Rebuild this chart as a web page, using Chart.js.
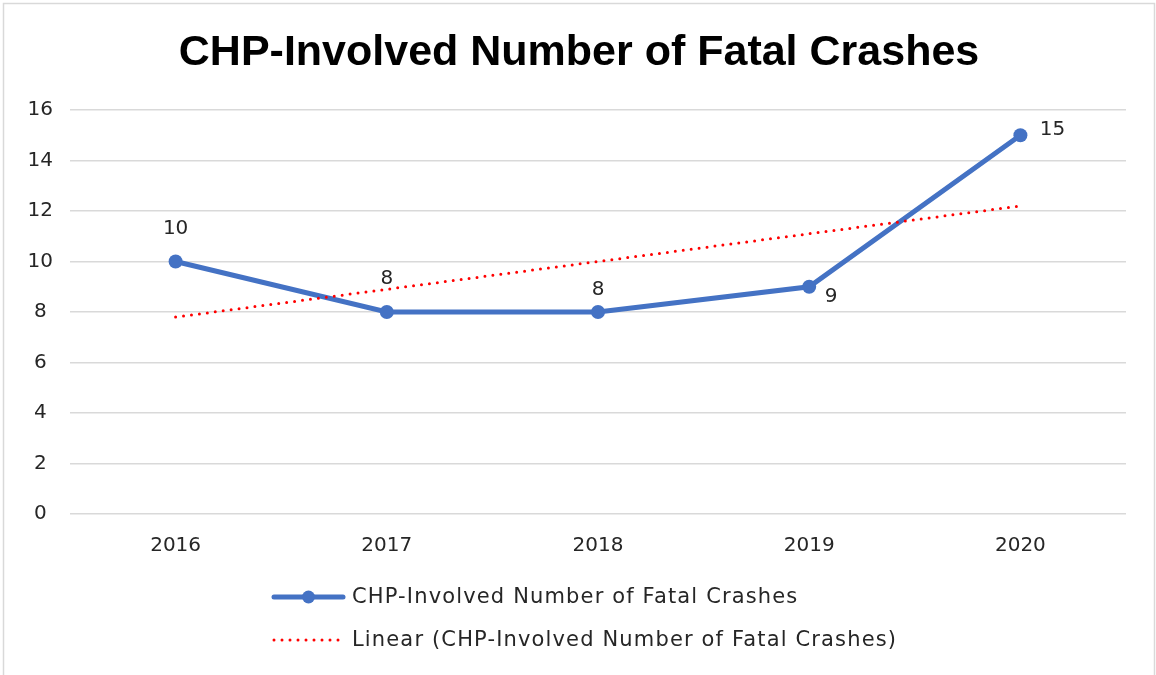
<!DOCTYPE html>
<html>
<head>
<meta charset="utf-8">
<script src="https://cdn.jsdelivr.net/npm/chart.js@4.4.1/dist/chart.umd.min.js"></script>
<style>
  html, body { margin: 0; padding: 0; background: #fff; }
  #wrap { position: relative; width: 1156px; height: 675px; }
</style>
</head>
<body>
<div id="wrap"><canvas id="crashChart"></canvas></div>
<script>
// Data
const years = ['2016', '2017', '2018', '2019', '2020'];
const fatalCrashes = [10, 8, 8, 9, 15];
const linearTrend = [7.8, 8.9, 10.0, 11.1, 12.2];
const yTicks = [0, 2, 4, 6, 8, 10, 12, 14, 16];

const seriesName = 'CHP-Involved Number of Fatal Crashes';
const trendName = 'Linear (CHP-Involved Number of Fatal Crashes)';

const FONT = "'DejaVu Sans', sans-serif";
const TEXT = '#262626';
const BLUE = '#4472C4';
const RED = '#FF0000';

// label offsets from each point (like Excel's manually moved labels)
const labelOffsets = [[0, -33], [0, -33], [0, -22], [22, 10], [32, -5]];

const extras = {
    id: 'extras',
    afterDraw(chart) {
        const ctx = chart.ctx;
        ctx.save();

        // outer chart border
        ctx.strokeStyle = '#d9d9d9';
        ctx.lineWidth = 1.5;
        ctx.strokeRect(3.5, 3.5, 1151, 700);

        // data labels
        const meta = chart.getDatasetMeta(0);
        ctx.font = '20px ' + FONT;
        ctx.fillStyle = TEXT;
        ctx.textAlign = 'center';
        ctx.textBaseline = 'middle';
        meta.data.forEach((pt, i) => {
            const off = labelOffsets[i];
            ctx.fillText(String(fatalCrashes[i]), pt.x + off[0], pt.y + off[1]);
        });

        // legend, stacked and left aligned
        const lx = 272, lw = 73;
        const rows = [597, 640];
        ctx.textAlign = 'left';

        ctx.strokeStyle = BLUE;
        ctx.lineWidth = 5;
        ctx.lineCap = 'round';
        ctx.beginPath();
        ctx.moveTo(lx + 2, rows[0]);
        ctx.lineTo(lx + lw - 2, rows[0]);
        ctx.stroke();
        ctx.fillStyle = BLUE;
        ctx.beginPath();
        ctx.arc(lx + lw / 2, rows[0], 6.5, 0, Math.PI * 2);
        ctx.fill();

        ctx.strokeStyle = RED;
        ctx.lineWidth = 3;
        ctx.setLineDash([0, 8]);
        ctx.beginPath();
        ctx.moveTo(lx + 2, rows[1]);
        ctx.lineTo(lx + lw - 2, rows[1]);
        ctx.stroke();
        ctx.setLineDash([]);

        ctx.fillStyle = TEXT;
        ctx.font = '21px ' + FONT;
        ctx.letterSpacing = '1.15px';
        ctx.fillText(seriesName, lx + lw + 7, rows[0] + 1);
        ctx.fillText(trendName, lx + lw + 7, rows[1] + 1);

        ctx.restore();
    }
};

function initCrashChart() {
    const ctx = document.getElementById('crashChart').getContext('2d');
    new Chart(ctx, {
        type: 'line',
        data: {
            labels: years,
            datasets: [{
                label: seriesName,
                data: fatalCrashes,
                borderColor: BLUE,
                backgroundColor: BLUE,
                borderWidth: 5,
                pointRadius: 7,
                pointHoverRadius: 7,
                pointBorderWidth: 0,
                tension: 0,
                fill: false,
                order: 1
            }, {
                label: trendName,
                data: linearTrend,
                borderColor: RED,
                borderWidth: 3,
                borderDash: [0, 8],
                borderCapStyle: 'round',
                pointRadius: 0,
                tension: 0,
                fill: false,
                order: 0
            }]
        },
        options: {
            responsive: true,
            maintainAspectRatio: false,
            animation: false,
            layout: {
                padding: { left: 2, right: 0, top: 0, bottom: 0 }
            },
            plugins: {
                legend: { display: false },
                tooltip: { enabled: false },
                title: {
                    display: true,
                    text: 'CHP-Involved Number of Fatal Crashes',
                    color: '#000',
                    font: { family: "'Liberation Sans', sans-serif", size: 43, weight: 'bold', lineHeight: 1.2 },
                    padding: { top: 27, bottom: 31.4 }
                }
            },
            scales: {
                x: {
                    offset: true,
                    grid: { display: false, drawTicks: false },
                    border: { display: false },
                    ticks: {
                        color: TEXT,
                        font: { family: FONT, size: 20 },
                        padding: 20
                    },
                    afterFit(scale) { scale.height = 161; }
                },
                y: {
                    min: 0,
                    max: 16,
                    afterBuildTicks(scale) { scale.ticks = yTicks.map(v => ({ value: v })); },
                    grid: { color: '#d9d9d9', lineWidth: 1.5, drawTicks: false },
                    border: { display: false },
                    ticks: {
                        color: TEXT,
                        font: { family: FONT, size: 20 },
                        padding: 17,
                        crossAlign: 'center'
                    },
                    afterFit(scale) { scale.width = 68; }
                },
                // empty right-hand margin so the plot ends where the reference does
                yRight: {
                    position: 'right',
                    min: 0,
                    max: 16,
                    grid: { display: false, drawTicks: false },
                    border: { display: false },
                    ticks: { display: false },
                    afterFit(scale) { scale.width = 30; }
                }
            }
        },
        plugins: [extras]
    });
}

window.addEventListener('load', () => {
    initCrashChart();
});
</script>
</body>
</html>
